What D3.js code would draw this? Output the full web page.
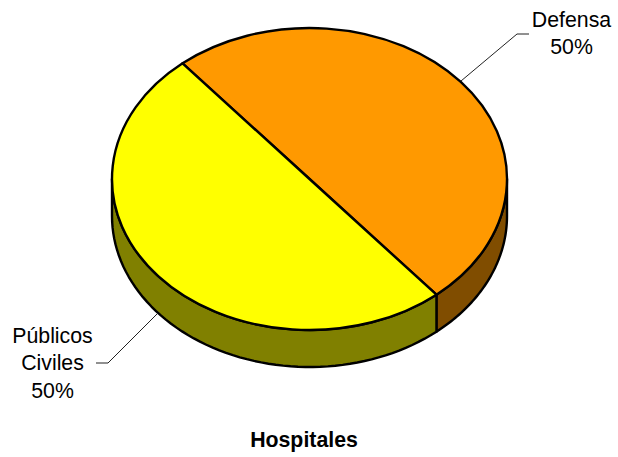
<!DOCTYPE html>
<html>
<head>
<meta charset="utf-8">
<script src="https://cdn.jsdelivr.net/npm/d3@7"></script>
<style>
html, body { margin: 0; padding: 0; background: #fff; }
svg { display: block; }
text { font-family: "Liberation Sans", Arial, sans-serif; font-size: 21.3px; fill: #000; }
</style>
</head>
<body>
<div id="chart"></div>
<script>
var categories = ["Defensa", "Públicos Civiles"];
var values = [50, 50];
var topColors = ["#ff9900", "#ffff00"];
var sideColors = ["#804d00", "#808000"];
var title = "Hospitales";

var width = 618, height = 457;
var cx = 309.5, cy = 179, rx = 197.5, ry = 151, depth = 37;
var startAngle = 40 * Math.PI / 180; // first slice begins left of 12 o'clock
var strokeW = 2.4;

var svg = d3.select("#chart").append("svg")
    .attr("width", width)
    .attr("height", height);

var total = d3.sum(values);

var pie = d3.pie()
    .sort(null)
    .startAngle(-startAngle)
    .endAngle(2 * Math.PI - startAngle);
var slices = pie(values);

function px(a) { return cx + rx * Math.sin(a); }
function py(a) { return cy - ry * Math.cos(a); }

// side wall, only the part facing the viewer (angles between 90 and 270 deg)
function wallPath(a0, a1) {
    var from = Math.max(a0, Math.PI / 2), to = Math.min(a1, 3 * Math.PI / 2);
    if (to <= from) return null;
    var path = d3.path();
    path.moveTo(px(from), py(from));
    path.lineTo(px(from), py(from) + depth);
    var n = 60;
    d3.range(1, n + 1).forEach(function(i) {
        var a = from + (to - from) * i / n;
        path.lineTo(px(a), py(a) + depth);
    });
    path.lineTo(px(to), py(to));
    d3.range(n - 1, -1, -1).forEach(function(i) {
        var a = from + (to - from) * i / n;
        path.lineTo(px(a), py(a));
    });
    path.closePath();
    return path.toString();
}

svg.append("g").selectAll("path")
    .data(slices)
    .enter().append("path")
    .attr("d", function(d) { return wallPath(d.startAngle, d.endAngle); })
    .attr("fill", function(d, i) { return sideColors[i]; })
    .attr("stroke", "#000")
    .attr("stroke-width", strokeW)
    .attr("stroke-linejoin", "round");

// top face is a normal arc squashed into an ellipse
var arc = d3.arc().innerRadius(0).outerRadius(rx);

svg.append("g")
    .attr("transform", "translate(" + cx + "," + cy + ") scale(1," + (ry / rx) + ")")
    .selectAll("path")
    .data(slices)
    .enter().append("path")
    .attr("d", arc)
    .attr("fill", function(d, i) { return topColors[i]; })
    .attr("stroke", "#000")
    .attr("stroke-width", strokeW)
    .attr("stroke-linejoin", "round")
    .attr("vector-effect", "non-scaling-stroke");

// leader lines
var leaderDefensa = d3.line()([[461, 81], [517, 34], [529, 34]]);
var leaderCiviles = d3.line()([[157, 314], [108, 363], [96, 363]]);

[leaderDefensa, leaderCiviles].forEach(function(d) {
    svg.append("path").attr("d", d).attr("fill", "none").attr("stroke", "#222").attr("stroke-width", 1);
});

function pct(i) { return Math.round(values[i] / total * 100) + "%"; }

svg.append("text").attr("x", 571.5).attr("y", 27).attr("text-anchor", "middle").text(categories[0]);
svg.append("text").attr("x", 571.5).attr("y", 54).attr("text-anchor", "middle").text(pct(0));

var civWords = categories[1].split(" ");
svg.append("text").attr("x", 52.5).attr("y", 343).attr("text-anchor", "middle").text(civWords[0]);
svg.append("text").attr("x", 52.5).attr("y", 370).attr("text-anchor", "middle").text(civWords[1]);
svg.append("text").attr("x", 52.5).attr("y", 398).attr("text-anchor", "middle").text(pct(1));

svg.append("text").attr("x", 304).attr("y", 447).attr("text-anchor", "middle")
    .style("font-weight", "bold").text(title);
</script>
</body>
</html>
